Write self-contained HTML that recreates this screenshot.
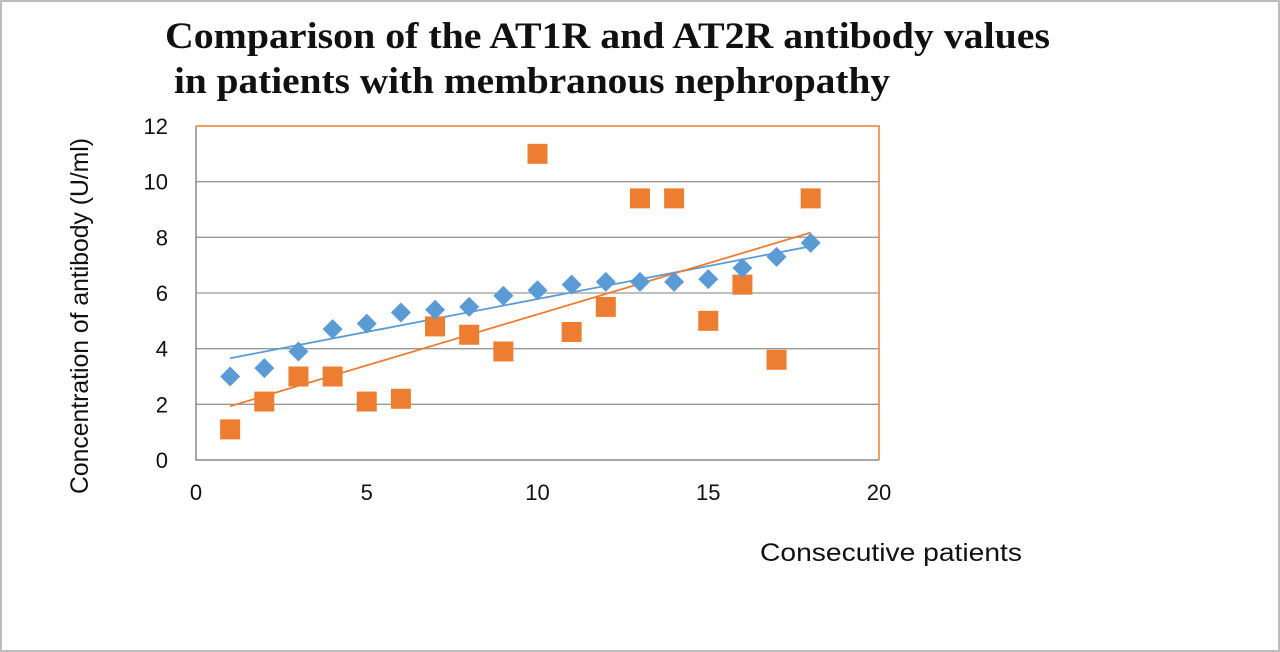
<!DOCTYPE html>
<html><head><meta charset="utf-8"><style>
body{margin:0;background:#fff;}
svg{display:block;}
</style></head><body>
<svg width="1280" height="652" viewBox="0 0 1280 652" xmlns="http://www.w3.org/2000/svg">
<rect x="1" y="1" width="1278" height="650" fill="#fff" stroke="#bdbdbd" stroke-width="2"/>
<text x="165" y="48" textLength="885" lengthAdjust="spacingAndGlyphs" font-family="Liberation Serif, serif" font-weight="bold" font-size="37" fill="#111">Comparison of the AT1R and AT2R antibody values</text>
<text x="174" y="93" textLength="716" lengthAdjust="spacingAndGlyphs" font-family="Liberation Serif, serif" font-weight="bold" font-size="37" fill="#111">in patients with membranous nephropathy</text>
<g id="plot"></g>
<text x="891" y="561" text-anchor="middle" textLength="262" lengthAdjust="spacingAndGlyphs" font-family="Liberation Sans, sans-serif" font-size="25" fill="#111">Consecutive patients</text>
<text transform="translate(88,316) rotate(-90)" text-anchor="middle" textLength="356" lengthAdjust="spacingAndGlyphs" font-family="Liberation Sans, sans-serif" font-size="25" fill="#111">Concentration of antibody (U/ml)</text>
</svg>
<script>
const patients=[1,2,3,4,5,6,7,8,9,10,11,12,13,14,15,16,17,18];
const at1r=[3.0,3.3,3.9,4.7,4.9,5.3,5.4,5.5,5.9,6.1,6.3,6.4,6.4,6.4,6.5,6.9,7.3,7.8];
const at2r=[1.1,2.1,3.0,3.0,2.1,2.2,4.8,4.5,3.9,11.0,4.6,5.5,9.4,9.4,5.0,6.3,3.6,9.4];
const xTicks=[0,5,10,15,20];
const yTicks=[0,2,4,6,8,10,12];
const NS="http://www.w3.org/2000/svg";
const g=document.getElementById('plot');
const X0=196,X1=879,Y0=460,Y1=126;
const sx=v=>X0+(v-0)/(20-0)*(X1-X0);
const sy=v=>Y0-(v-0)/(12-0)*(Y0-Y1);
function mk(t,a){const e=document.createElementNS(NS,t);for(const k in a)e.setAttribute(k,a[k]);g.appendChild(e);return e;}
yTicks.forEach(v=>{
 if(v>0&&v<12){const l=mk('line',{x1:X0,x2:X1,y1:sy(v),y2:sy(v),stroke:'#999','stroke-width':1.3});
 
 }
 const t=mk('text',{x:X0-28,y:sy(v)+8,'text-anchor':'end','font-family':'Liberation Sans, sans-serif','font-size':22,fill:'#111'});
 t.textContent=v;
 
 
});
xTicks.forEach(v=>{
 const t=mk('text',{x:sx(v),y:500,'text-anchor':'middle','font-family':'Liberation Sans, sans-serif','font-size':22,fill:'#111'});
 t.textContent=v;
 
 
});
const frame=mk('path',{d:`M${X0},${Y1}H${X1}V${Y0}`,fill:'none',stroke:'#ED7D31','stroke-width':1.5});


const ax=mk('path',{d:`M${X0},${Y1}V${Y0}H${X1}`,fill:'none',stroke:'#888','stroke-width':1.5});


function fit(xs,ys){const n=xs.length;let mx=0,my=0;xs.forEach((x,i)=>{mx+=x;my+=ys[i];});mx/=n;my/=n;let sxy=0,sxx=0;xs.forEach((x,i)=>{sxy+=(x-mx)*(ys[i]-my);sxx+=(x-mx)*(x-mx);});const b=sxy/sxx;return [my-b*mx,b];}
[[at1r,'#5B9BD5','at1r'],[at2r,'#ED7D31','at2r']].forEach(([ys,c,n])=>{
 const [a,b]=fit(patients,ys);const xa=patients[0],xb=patients[patients.length-1];
 const l=mk('line',{x1:sx(xa),y1:sy(a+b*xa),x2:sx(xb),y2:sy(a+b*xb),stroke:c,'stroke-width':1.8});
 
 
});
at2r.forEach((v,i)=>{const x=sx(patients[i]),y=sy(v);
 const r=mk('rect',{x:x-10,y:y-10,width:20,height:20,fill:'#ED7D31'});
 
 });
at1r.forEach((v,i)=>{const x=sx(patients[i]),y=sy(v);
 const p=mk('polygon',{points:`${x},${y-10} ${x+10},${y} ${x},${y+10} ${x-10},${y}`,fill:'#5B9BD5'});
 
 });
</script>
</body></html>
